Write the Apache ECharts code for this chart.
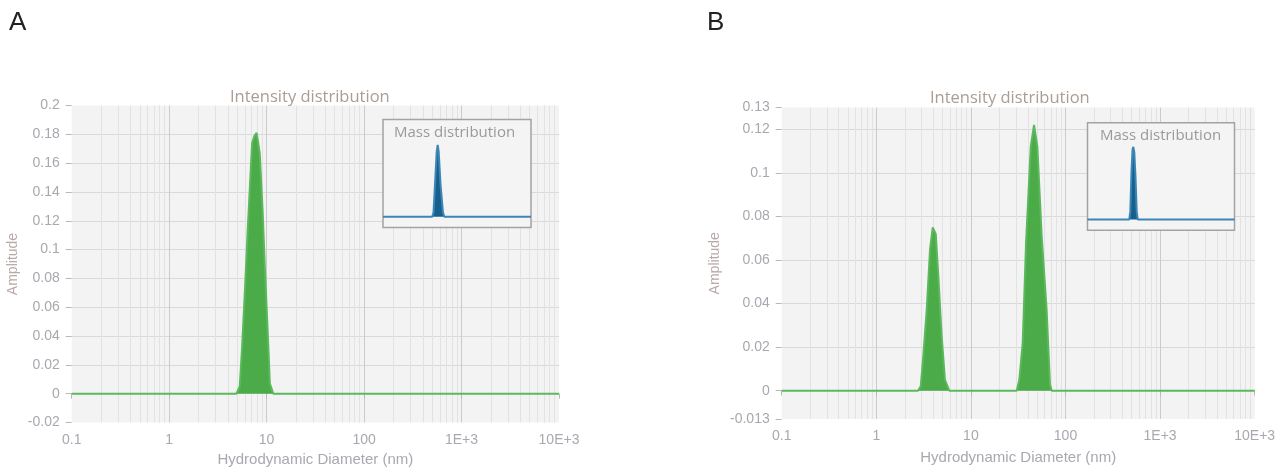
<!DOCTYPE html>
<html>
<head>
<meta charset="utf-8">
<script src="https://cdn.jsdelivr.net/npm/echarts@6/dist/echarts.min.js"></script>
<style>
  html, body { margin: 0; background: #fff; }
  #main { width: 1278px; height: 468px; }
</style>
</head>
<body>
<div id="main"></div>
<script>
// A: intensity distribution, hydrodynamic diameter (nm) vs amplitude
const diamA = [0.1, 4.9, 5.3, 5.6, 6.0, 6.4, 7.1, 7.5, 7.9, 8.5, 9.1, 9.6, 10.2, 10.8, 11.7, 10000]
const ampA = [0, 0, 0.005, 0.032, 0.073, 0.114, 0.174, 0.179, 0.181, 0.167, 0.127, 0.087, 0.047, 0.007, 0, 0]

// B: two populations
const diamB = [0.1, 2.76, 2.95, 3.14, 3.41, 3.70, 3.95, 4.25, 4.52, 4.91, 5.32, 5.91,
  30.5, 32.5, 35.3, 38.3, 42.9, 46.5, 50.4, 56.0, 63.2, 68.5, 71.5, 10000]
const ampB = [0, 0, 0.002, 0.016, 0.037, 0.065, 0.075, 0.072, 0.053, 0.025, 0.005, 0,
  0, 0.005, 0.022, 0.068, 0.112, 0.122, 0.112, 0.071, 0.037, 0.003, 0, 0]

// inset mass distributions (relative units)
const massDiamA = [0.1, 4.64, 5.09, 5.71, 6.52, 7.05, 7.62, 8.77, 10.6, 11.8, 10000]
const massAmpA = [0, 0, 0.08, 0.6, 1.2, 1.33, 1.2, 0.6, 0.08, 0, 0]
const massDiamB = [0.1, 2.64, 2.86, 3.14, 3.40, 3.61, 3.91, 4.29, 4.71, 5.09, 10000]
const massAmpB = [0, 0, 0.15, 0.9, 1.3, 1.35, 1.25, 0.8, 0.15, 0, 0]

// axis ticks
const yTicksB = [-0.013, 0, 0.02, 0.04, 0.06, 0.08, 0.1, 0.12, 0.13]
const decades = [0.1, 1, 10, 100, 1000]

const minorTicks = []
decades.forEach(d => {
  for (let k = 2; k <= 9; k++) minorTicks.push(+(d * k).toPrecision(6))
})

const labelColor = '#a8a8b0'
const labelFont = 'Liberation Sans'
const tickColor = '#b8b8b8'

const zip = (xs, ys) => xs.map((x, i) => [x, ys[i]])

const fmtX = value => {
  const v = +Number(value).toPrecision(6)
  return v >= 1000 ? (v / 1000) + 'E+3' : String(v)
}
const fmtY = value => String(+Number(value).toFixed(3))

function mainX (gridIndex, labelMargin, nameGap) {
  return {
    type: 'log',
    logBase: 10,
    gridIndex: gridIndex,
    min: 0.1,
    max: 10000,
    axisLine: { show: false },
    axisTick: { show: true, length: 5, lineStyle: { color: tickColor } },
    axisLabel: { margin: labelMargin, color: labelColor, fontFamily: labelFont, fontSize: 14, formatter: fmtX },
    splitLine: { show: true, showMinLine: false, showMaxLine: false, lineStyle: { color: '#cbcbcb' } },
    name: 'Hydrodynamic Diameter (nm)',
    nameLocation: 'middle',
    nameGap: nameGap,
    nameTextStyle: { color: labelColor, fontFamily: labelFont, fontSize: 15 }
  }
}

function mainY (gridIndex, extra, nameGap) {
  return Object.assign({
    type: 'value',
    gridIndex: gridIndex,
    axisLine: { show: false },
    axisTick: { show: true, length: 6, lineStyle: { color: tickColor } },
    axisLabel: { margin: 12, color: labelColor, fontFamily: labelFont, fontSize: 14, formatter: fmtY },
    splitLine: { show: true, showMinLine: false, showMaxLine: false, lineStyle: { color: '#d9d9d9' } },
    name: 'Amplitude',
    nameLocation: 'middle',
    nameGap: nameGap,
    nameTextStyle: { color: '#b9a8a8', fontFamily: labelFont, fontSize: 14 }
  }, extra)
}

function hiddenX (gridIndex) {
  return { type: 'log', logBase: 10, gridIndex: gridIndex, min: 0.1, max: 10000, show: false, splitLine: { show: false } }
}
function hiddenY (gridIndex) {
  return { type: 'value', gridIndex: gridIndex, min: -0.2, max: 1.8, show: false, splitLine: { show: false } }
}

function intensitySeries (axisIndex, data) {
  return {
    type: 'line',
    xAxisIndex: axisIndex,
    yAxisIndex: axisIndex,
    data: data,
    symbol: 'none',
    z: 2,
    lineStyle: { color: '#5cb85c', width: 2 },
    areaStyle: { color: '#4aab48', opacity: 1 },
    markLine: {
      silent: true,
      z: 1,
      symbol: ['none', 'none'],
      label: { show: false },
      lineStyle: { color: '#e2e2e2', type: 'solid', width: 1 },
      data: minorTicks.map(v => ({ xAxis: v }))
    }
  }
}

function massSeries (axisIndex, data) {
  return {
    type: 'line',
    xAxisIndex: axisIndex,
    yAxisIndex: axisIndex,
    data: data,
    symbol: 'none',
    z: 6,
    lineStyle: { color: '#3c86b6', width: 2 },
    areaStyle: { color: '#16608e', opacity: 1 }
  }
}

const titleText = { fontWeight: 'normal', fontFamily: 'Open Sans' }
const letterText = { fontSize: 26, fontWeight: 'normal', color: '#222', fontFamily: labelFont }

const option = {
  animation: false,
  title: [
    { text: 'A', left: 9, top: 10, padding: 0, textStyle: letterText },
    { text: 'B', left: 707, top: 10, padding: 0, textStyle: letterText },
    { text: 'Intensity distribution', left: 230, top: 89, padding: 0, textStyle: Object.assign({ fontSize: 16.5, color: '#a99d94' }, titleText) },
    { text: 'Intensity distribution', left: 930, top: 90, padding: 0, textStyle: Object.assign({ fontSize: 16.5, color: '#a99d94' }, titleText) },
    { text: 'Mass distribution', left: 394, top: 125, padding: 0, z: 8, textStyle: Object.assign({ fontSize: 15, color: '#9a9a9a' }, titleText) },
    { text: 'Mass distribution', left: 1100, top: 128, padding: 0, z: 8, textStyle: Object.assign({ fontSize: 15, color: '#9a9a9a' }, titleText) }
  ],
  grid: [
    { left: 71.7, top: 105.5, width: 487.3, height: 317, outerBoundsMode: 'none', show: true, backgroundColor: '#f3f3f3', borderWidth: 0 },
    { left: 383, top: 119.5, width: 148, height: 108, outerBoundsMode: 'none', show: true, backgroundColor: '#f4f4f4', borderColor: '#a3a3a3', borderWidth: 1.5, z: 4 },
    { left: 781.7, top: 107.5, width: 473, height: 311.5, outerBoundsMode: 'none', show: true, backgroundColor: '#f3f3f3', borderWidth: 0 },
    { left: 1087.5, top: 122.7, width: 147, height: 107.5, outerBoundsMode: 'none', show: true, backgroundColor: '#f4f4f4', borderColor: '#a3a3a3', borderWidth: 1.5, z: 4 }
  ],
  xAxis: [mainX(0, 10.5, 30), hiddenX(1), mainX(2, 10.5, 31), hiddenX(3)],
  yAxis: [
    mainY(0, { min: -0.02, max: 0.2, interval: 0.02 }, 52),
    hiddenY(1),
    mainY(2, {
      min: -0.013,
      max: 0.13,
      axisTick: { show: true, length: 6, lineStyle: { color: tickColor }, customValues: yTicksB },
      axisLabel: { margin: 12, color: labelColor, fontFamily: labelFont, fontSize: 14, formatter: fmtY, customValues: yTicksB }
    }, 60),
    hiddenY(3)
  ],
  series: [
    intensitySeries(0, zip(diamA, ampA)),
    massSeries(1, zip(massDiamA, massAmpA)),
    intensitySeries(2, zip(diamB, ampB)),
    massSeries(3, zip(massDiamB, massAmpB))
  ]
}

const chart = echarts.init(document.getElementById('main'))
chart.setOption(option)
</script>
</body>
</html>
